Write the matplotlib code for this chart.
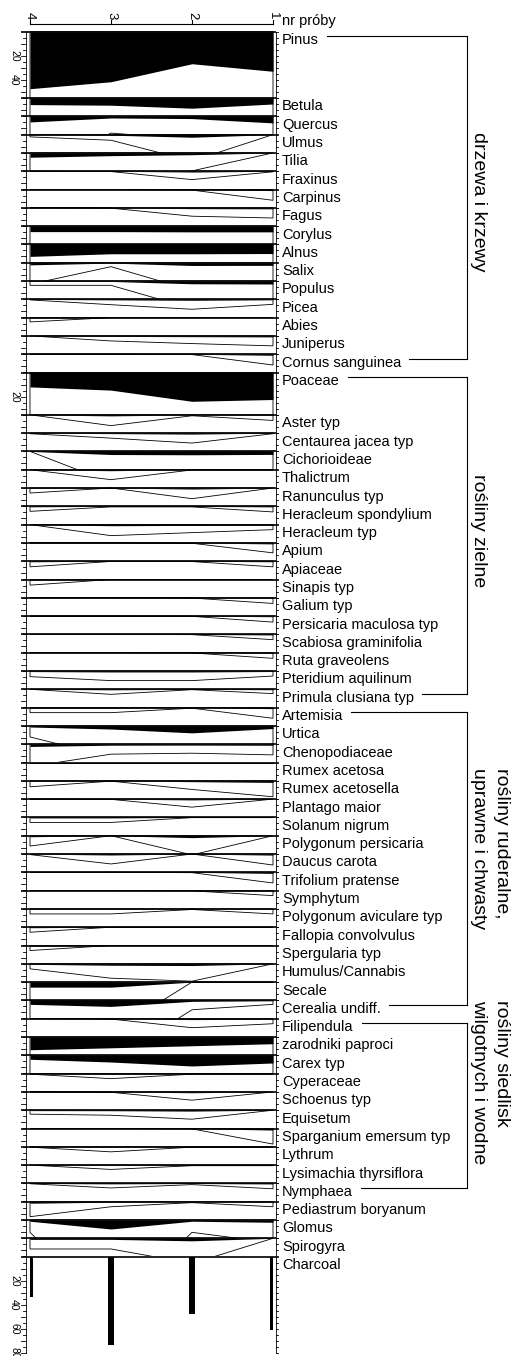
import matplotlib
matplotlib.use("Agg")
import matplotlib.pyplot as plt
import matplotlib.transforms as mtransforms
from matplotlib.patches import Polygon, Rectangle
import numpy as np

plt.rcParams['font.family'] = ['Liberation Sans', 'DejaVu Sans']

W, H = 511, 1356
samples = [4, 3, 2, 1]

# percentages, columns = sample 4, 3, 2, 1
trees = ['Pinus', 'Betula', 'Quercus', 'Ulmus', 'Tilia', 'Fraxinus', 'Carpinus',
         'Fagus', 'Corylus', 'Alnus', 'Salix', 'Populus', 'Picea', 'Abies',
         'Juniperus', 'Cornus sanguinea']
trees_pct = [[47.5, 41.7, 26.7, 33.0], [5.5, 6.0, 8.5, 5.0], [4.7, 1.4, 1.9, 5.5],
             [0.19, 0.47, 2.2, 0.0], [3.6, 2.3, 1.5, 0.0], [0.0, 0.03, 0.7, 0.05],
             [0.0, 0.0, 0.05, 0.9], [0.0, 0.03, 0.7, 0.85], [4.6, 4.6, 4.8, 4.8],
             [10.0, 7.8, 7.8, 7.6], [1.8, 0.33, 2.3, 2.2], [0.36, 0.36, 2.3, 2.5],
             [0.05, 0.45, 0.83, 0.42], [0.36, 0.0, 0.0, 0.0], [0.0, 0.42, 0.64, 0.83],
             [0.0, 0.0, 0.03, 0.9]]

herbs = ['Poaceae', 'Aster typ', 'Centaurea jacea typ', 'Cichorioideae', 'Thalictrum',
         'Ranunculus typ', 'Heracleum spondylium', 'Heracleum typ', 'Apium', 'Apiaceae',
         'Sinapis typ', 'Galium typ', 'Persicaria maculosa typ', 'Scabiosa graminifolia',
         'Ruta graveolens', 'Pteridium aquilinum', 'Primula clusiana typ']
herbs_pct = [[12.0, 14.7, 24.0, 22.5], [0.0, 0.9, 0.08, 0.47], [0.05, 0.42, 0.83, 0.05],
             [0.0, 2.6, 2.8, 2.5], [0.0, 0.83, 0.02, 0.03], [0.42, 0.0, 0.89, 0.0],
             [0.42, 0.05, 0.05, 0.47], [0.0, 0.92, 0.67, 0.42], [0.0, 0.0, 0.03, 0.83],
             [0.47, 0.02, 0.03, 0.47], [0.47, 0.0, 0.0, 0.0], [0.0, 0.0, 0.02, 0.47],
             [0.0, 0.0, 0.02, 0.5], [0.0, 0.0, 0.02, 0.44], [0.0, 0.0, 0.02, 0.47],
             [0.47, 0.8, 0.8, 0.42], [0.0, 0.42, 0.03, 0.36]]

ruderal = ['Artemisia', 'Urtica', 'Chenopodiaceae', 'Rumex acetosa', 'Rumex acetosella',
           'Plantago maior', 'Solanum nigrum', 'Polygonum persicaria', 'Daucus carota',
           'Trifolium pratense', 'Symphytum', 'Polygonum aviculare typ',
           'Fallopia convolvulus', 'Spergularia typ', 'Humulus/Cannabis', 'Secale',
           'Cerealia undiff.']
ruderal_pct = [[0.42, 0.42, 0.05, 0.89], [0.92, 2.6, 5.8, 2.2], [1.87, 0.83, 0.75, 0.89],
               [0.03, 0.03, 0.03, 0.03], [0.5, 0.03, 0.72, 1.33], [0.0, 0.02, 0.67, 0.0],
               [0.42, 0.42, 0.02, 0.02], [0.86, 0.0, 1.6, 0.0], [0.05, 0.83, 0.0, 0.92],
               [0.0, 0.0, 0.03, 0.89], [0.0, 0.0, 0.02, 0.42], [0.42, 0.42, 0.05, 0.42],
               [0.42, 0.0, 0.0, 0.0], [0.42, 0.0, 0.0, 0.0], [0.42, 1.2, 1.45, 0.0],
               [4.2, 4.2, 0.0, 0.0], [3.3, 5.0, 0.78, 0.33]]

wet = ['Filipendula', 'zarodniki paproci', 'Carex typ', 'Cyperaceae', 'Schoenus typ',
       'Equisetum', 'Sparganium emersum typ', 'Lythrum', 'Lysimachia thyrsiflora',
       'Nymphaea']
wet_pct = [[0.0, 0.03, 0.75, 0.42], [10.6, 9.0, 7.3, 5.6], [3.3, 5.6, 8.9, 6.4],
           [0.05, 0.42, 0.05, 0.05], [0.0, 0.03, 0.69, 0.0], [0.33, 0.42, 0.75, 0.0],
           [0.0, 0.0, 0.03, 1.3], [0.03, 0.42, 0.03, 0.03], [0.0, 0.36, 0.05, 0.05],
           [0.03, 0.38, 0.1, 0.45]]

other = ['Pediastrum boryanum', 'Glomus', 'Spirogyra']
other_pct = [[1.25, 0.42, 0.08, 0.42], [1.03, 7.5, 1.03, 1.9], [0.89, 0.89, 2.1, 0.0]]

charcoal = [34, 74, 48, 61]

group_titles = [['drzewa i krzewy'], ['rośliny zielne'],
                ['rośliny ruderalne,', 'uprawne i chwasty'],
                ['rośliny siedlisk', 'wilgotnych i wodne']]

# layout
axis_max = {'Pinus': 55, 'Poaceae': 35, 'Charcoal': 80}
tick_labels = {'Pinus': [20, 40], 'Poaceae': [20], 'Charcoal': [20, 40, 60, 80]}
small_max = 15
gap = 0.25
exag = 10
ypx0, pxpp = 31.7, 1.2   # top of first panel in px, px per percent

names = trees + herbs + ruderal + wet + other + ['Charcoal']
pcts = trees_pct + herbs_pct + ruderal_pct + wet_pct + other_pct + [charcoal]
heights = [axis_max.get(n, small_max) for n in names]
total = sum(heights) + gap * (len(names) - 1)

fig = plt.figure(figsize=(W / 100, H / 100), dpi=100)
ax = fig.add_axes([30 / W, 1 - (ypx0 + total * pxpp) / H, 243 / W, total * pxpp / H])
ax.set_xlim(4, 1)
ax.set_ylim(total, 0)
ax.axis('off')

tr = mtransforms.blended_transform_factory(fig.transFigure, ax.transData)
trx = mtransforms.blended_transform_factory(ax.transData, fig.transFigure)


def fx(px):
    return px / W


def fy(px):
    return 1 - px / H


label_text = {}
tops = {}
top = 0.0
for name, vals, hmax in zip(names, pcts, heights):
    vals = np.array(vals, dtype=float)
    tops[name] = top
    if name == 'Charcoal':
        ax.bar(samples, vals, width=0.08, bottom=top, color='k', lw=0)
    else:
        ex = vals * exag
        xs = [4] + samples + [1]
        ys = [top] + list(top + ex) + [top]
        poly = Polygon(list(zip(xs, ys)), closed=True, fc='white', ec='k', lw=0.6)
        ax.add_patch(poly)
        clip = Rectangle((0.9, top - 2), 3.2, hmax + 2, transform=ax.transData)
        poly.set_clip_path(clip)
        ax.fill_between(samples, top, top + vals, color='k', lw=0)
    # zero line
    ax.plot([fx(21), fx(276)], [top, top], transform=tr, color='k', lw=1.2,
            clip_on=False, solid_capstyle='butt')
    # left scale
    ax.plot([fx(25.5), fx(25.5)], [top, top + hmax], transform=tr, color='k',
            lw=0.6, clip_on=False)
    for t in np.arange(5, hmax + 0.1, 5):
        ln = 5 if t % 10 == 0 else 3
        ax.plot([fx(25.5 - ln), fx(25.5)], [top + t, top + t], transform=tr,
                color='k', lw=0.6, clip_on=False)
    # right scale
    ax.plot([fx(275.5), fx(275.5)], [top, top + hmax], transform=tr, color='k',
            lw=0.6, clip_on=False)
    for t in np.arange(0, hmax + 0.1, 5):
        ax.plot([fx(275.5), fx(278)], [top + t, top + t], transform=tr,
                color='k', lw=0.6, clip_on=False)
    for t in tick_labels.get(name, []):
        ax.text(fx(14), top + t, str(t), transform=tr, rotation=-90,
                fontsize=7.5, ha='center', va='center')
    label_text[name] = ax.text(fx(282), top + 12.5 / pxpp, name, transform=tr,
                               fontsize=10.5, ha='left', va='baseline')
    top += hmax + gap

# sample axis on top
ax.plot([4, 1], [fy(24), fy(24)], transform=trx, color='k', lw=0.8, clip_on=False)
for s in samples:
    ax.plot([s, s], [fy(20), fy(24)], transform=trx, color='k', lw=0.8, clip_on=False)
    ax.text(s, fy(15.5), str(s), transform=trx, rotation=-90, fontsize=9.5,
            ha='center', va='center')
fig.text(fx(282), fy(25.5), 'nr próby', fontsize=10.5, ha='left', va='baseline')

# group brackets
fig.canvas.draw()
renderer = fig.canvas.get_renderer()
group_ends = [('Pinus', 'Cornus sanguinea'), ('Poaceae', 'Primula clusiana typ'),
              ('Artemisia', 'Cerealia undiff.'), ('Filipendula', 'Nymphaea')]
title_tops = [132, 474, 768, 1000]
xbr = 467.3
for (first, last), title, ttop in zip(group_ends, group_titles, title_tops):
    ylines = []
    for n in (first, last):
        bb = label_text[n].get_window_extent(renderer)
        yl = tops[n] + (12.5 - 8) / pxpp
        ylines.append(yl)
        ax.plot([fx(bb.x1 + 8), fx(xbr)], [yl, yl], transform=tr, color='k',
                lw=0.8, clip_on=False)
    ax.plot([fx(xbr), fx(xbr)], ylines, transform=tr, color='k', lw=0.8, clip_on=False)
    xbase = [474] if len(title) == 1 else [497, 474]
    for line, xb in zip(title, xbase):
        fig.text(fx(xb), fy(ttop), line, rotation=-90, rotation_mode='anchor',
                 ha='left', va='baseline', fontsize=14)

fig.savefig('out.png', dpi=100)
